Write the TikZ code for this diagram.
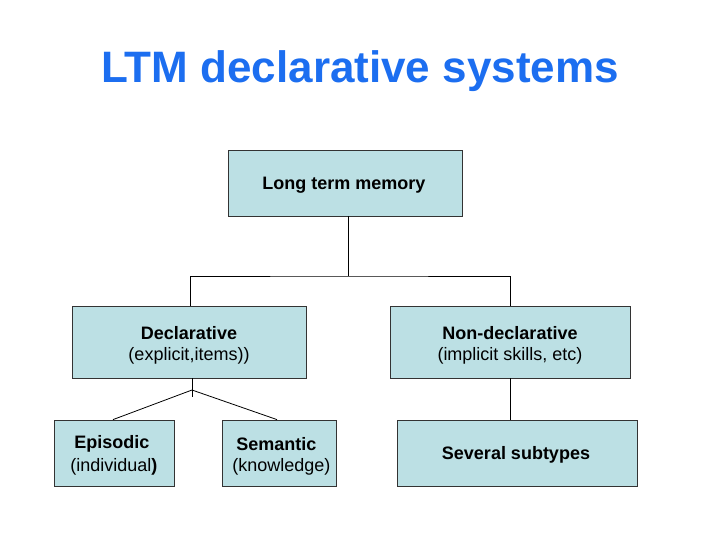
\documentclass[tikz,border=0pt]{standalone}
\usepackage{fontspec}
\setmainfont{Liberation Sans}
\definecolor{boxfill}{RGB}{188,224,228}
\definecolor{titleblue}{RGB}{28,110,240}
\begin{document}
\begin{tikzpicture}[x=0.75pt,y=-0.75pt,
  box/.style={draw=black!80,line width=0.6pt,fill=boxfill,rectangle},
  conn/.style={draw=black,line width=0.6pt},
  lbl/.style={font=\fontsize{13.5pt}{16.5pt}\selectfont,inner sep=0pt,align=center},
  lblb/.style={lbl,font=\fontsize{13.5pt}{16.5pt}\selectfont\bfseries}]
\useasboundingbox (0,0) rectangle (720,540);
\node[font=\fontsize{33pt}{38pt}\selectfont\bfseries,text=titleblue,inner sep=0pt] (title) at (360,71) {LTM declarative systems};
% boxes
\node[box,minimum width=234*0.75pt,minimum height=66*0.75pt] (ltm) at (345,183) {};
\node[box,minimum width=234*0.75pt,minimum height=72*0.75pt] (decl) at (189,342) {};
\node[box,minimum width=240*0.75pt,minimum height=72*0.75pt] (nondecl) at (510,342) {};
\node[box,minimum width=120*0.75pt,minimum height=66*0.75pt] (epi) at (114,453) {};
\node[box,minimum width=114*0.75pt,minimum height=66*0.75pt] (sem) at (279,453) {};
\node[box,minimum width=240*0.75pt,minimum height=66*0.75pt] (sev) at (517,453) {};
% texts
\node[lblb] (tltm) at (344,185) {Long term memory};
\node[lblb] (tdecl) at (189,333) {Declarative};
\node[lbl] (tdecl2) at (189,356) {(explicit,items))};
\node[lblb] (tnd) at (510,333) {Non-declarative};
\node[lbl] (tnd2) at (510,356) {(implicit skills, etc)};
\node[lblb,anchor=west] (tepi) at (74,444) {Episodic};
\node[lbl,anchor=west] (tepi2) at (70,467) {(individual\textbf{)}};
\node[lblb,anchor=west] (tsem) at (236,444) {Semantic};
\node[lbl,anchor=west] (tsem2) at (232,467) {(knowledge)};
\node[lblb] (tsev) at (516,455) {Several subtypes};
% connectors
\coordinate (j1) at (348,276);
\coordinate (j2) at (192,390);
\coordinate (j2t) at (192,397);
\draw[conn] (ltm.south -| j1) -- (j1);
\draw[conn] (decl.north -| 190,0) |- (j1) -| (nondecl.north);
\draw[conn] (decl.south -| j2) -- (j2t);
\draw[conn] (epi.north -| 113,0) -- (j2) -- (sem.north -| 277,0);
\draw[conn] (nondecl.south) -- (nondecl.south |- sev.north);
\end{tikzpicture}
\end{document}
